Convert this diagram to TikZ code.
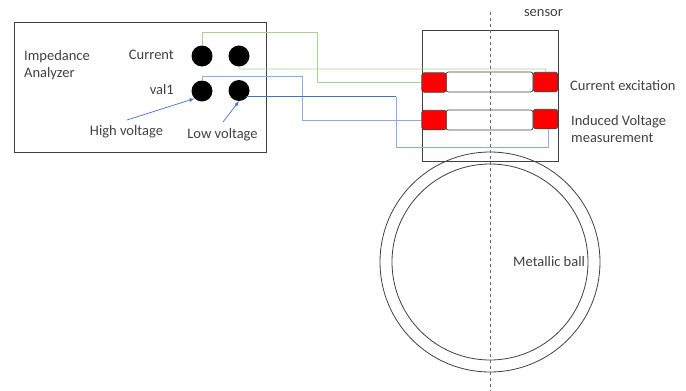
\documentclass[tikz,border=0pt]{standalone}
\usepackage{fontspec}
\setmainfont{Carlito}
\usetikzlibrary{arrows}
\definecolor{wiregreen}{HTML}{A9D18E}
\definecolor{wirelight}{HTML}{8FAADC}
\definecolor{wireblue}{HTML}{4472C4}
\definecolor{inkgray}{HTML}{404040}
\tikzset{
  port/.style={circle,fill=black,inner sep=0pt,minimum size=21pt},
  redcoil/.style={draw=inkgray,line width=0.7pt,fill=red,rounded corners=2.5pt,inner sep=0pt,minimum width=24.5pt,minimum height=19.5pt},
  whitecoil/.style={draw=inkgray,line width=0.7pt,fill=white,rounded corners=2.5pt,inner sep=0pt,minimum width=87pt,minimum height=20pt},
  greenwire/.style={color=wiregreen,line width=0.8pt},
  bluewire/.style={color=wirelight,line width=0.8pt},
  darkwire/.style={color=wireblue,line width=0.7pt},
  label/.style={text=inkgray,font=\fontsize{14.5}{17}\selectfont,inner sep=0pt,align=left}
}
\begin{document}
\begin{tikzpicture}[x=1pt,y=-1pt]
  \useasboundingbox (0,0) rectangle (686,391);
  % analyzer
  \node[draw=inkgray,line width=0.8pt,minimum width=252pt,minimum height=130pt,inner sep=0pt](analyzer)at(140,87){};
  \node[label,anchor=west](name)at(24,65.5){Impedance\\Analyzer};
  \node[label,anchor=east](curtext)at(174,55){Current};
  \node[label,anchor=east](valtext)at(174,89.5){val1};
  \node[port](cura)at(202,56){};
  \node[port](curb)at(239,56){};
  \node[port](vala)at(202,91){};
  \node[port](valb)at(239,90.5){};
  \node[label](high)at(126.5,131.5){High voltage};
  \node[label](low)at(222.5,134.5){Low voltage};
  % sensor
  \node[draw=inkgray,line width=0.8pt,minimum width=136pt,minimum height=131pt,inner sep=0pt](sensor)at(490,95.5){};
  \node[whitecoil](excmid)at(489.5,82){};
  \node[whitecoil](indmid)at(489.5,120){};
  \node[redcoil](excl)at(434,82.5){};
  \node[redcoil](excr)at(545.5,82){};
  \node[redcoil](indl)at(434,120){};
  \node[redcoil](indr)at(545.5,119){};
  \node[label,anchor=west](exctext)at(570,86){Current excitation};
  \node[label,anchor=west](indtext)at(571,129){Induced Voltage\\measurement};
  \node[label](senstext)at(543.5,13){sensor};
  % ball
  \node[circle,draw=inkgray,line width=0.8pt,minimum size=220pt,inner sep=0pt](outer)at(490,262){};
  \node[circle,draw=inkgray,line width=0.8pt,minimum size=196pt,inner sep=0pt](inner)at(490,262){};
  \node[label,anchor=west](balltext)at(513,262){Metallic ball};
  % axis
  \coordinate(axtop)at(490,12);
  \coordinate(axbot)at(490,391);
  \draw[dashed,color=black!60,line width=0.7pt](axtop)--(axbot);
  % wires
  \draw[greenwire](cura.north)|-(317,32)|-(excl.west);
  \draw[greenwire](curb.south)|-(546,69)--(excr.north);
  \draw[bluewire](vala.north)|-(302,76.5)|-(indl.west);
  \draw[darkwire](valb.east)++(-4,6)--(396,96.5);
  \draw[bluewire](396,96.5)|-(548.5,147)--(indr.south-|548.5,0);
  % arrows
  \draw[-latex,darkwire](127,120)--(vala.south west);
  \draw[-latex,darkwire](223,122)--(valb.south);
\end{tikzpicture}
\end{document}
